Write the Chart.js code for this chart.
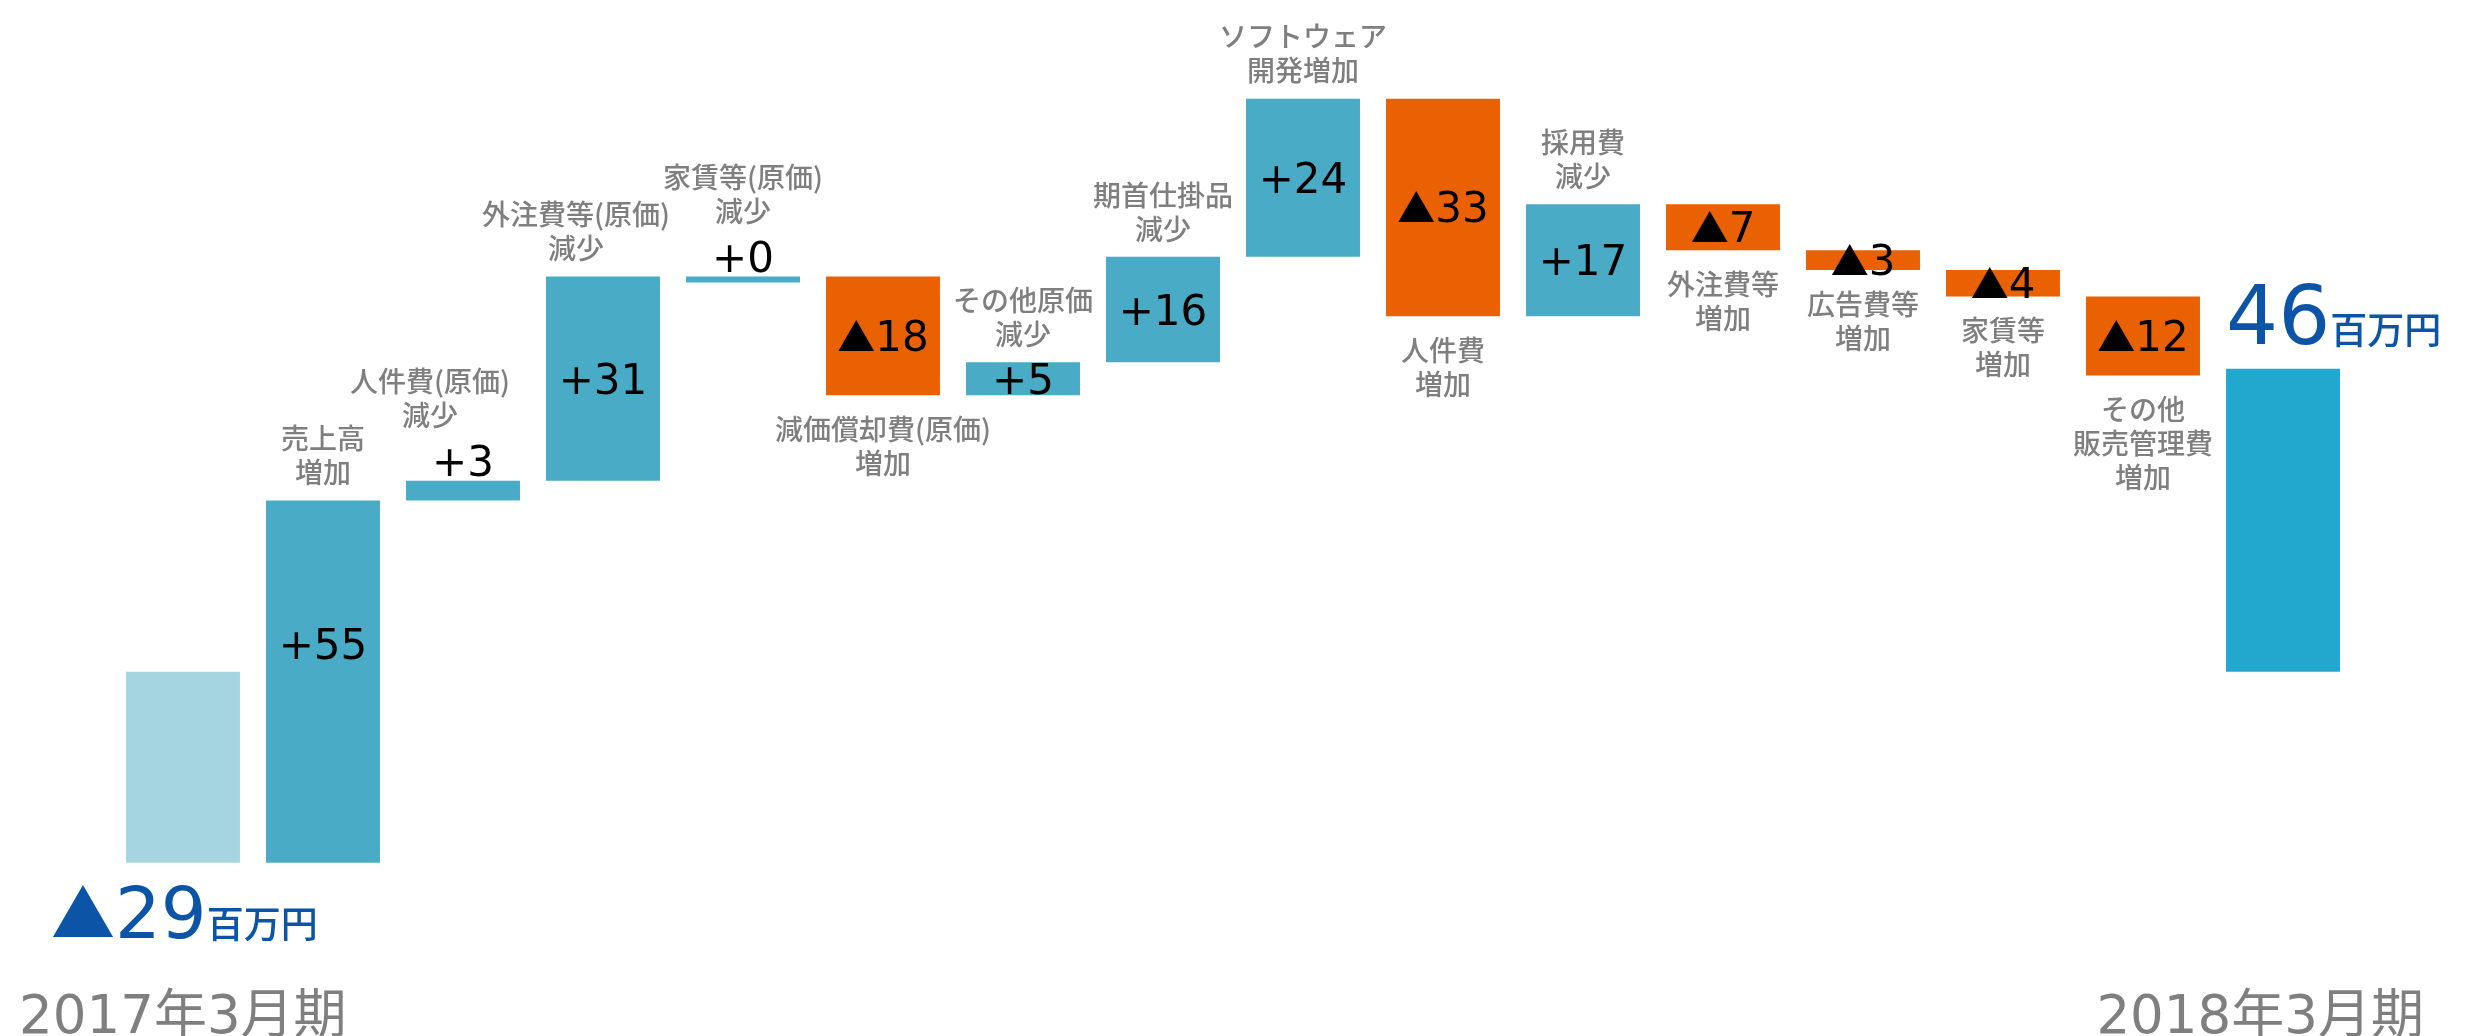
<!DOCTYPE html>
<html lang="ja">
<head>
<meta charset="utf-8">
<title>営業利益の増減要因</title>
<script src="https://cdn.jsdelivr.net/npm/chart.js@4.4.0/dist/chart.umd.min.js"></script>
<style>
    html, body { margin: 0; padding: 0; background: #ffffff; }
    #wrap { width: 2481px; height: 1036px; position: relative; }
</style>
</head>
<body>
<div id="wrap"><canvas id="bridgeChart"></canvas></div>
<script>
// Profit bridge, 2017年3月期 -> 2018年3月期 (百万円)
const startValue = -29;
const endValue = 46;
const changes = [55, 3, 31, 0, -18, 5, 16, 24, -33, 17, -7, -3, -4, -12];
const changeLabels = [
    ['売上高', '増加'],
    ['人件費(原価)', '減少'],
    ['外注費等(原価)', '減少'],
    ['家賃等(原価)', '減少'],
    ['減価償却費(原価)', '増加'],
    ['その他原価', '減少'],
    ['期首仕掛品', '減少'],
    ['ソフトウェア', '開発増加'],
    ['人件費', '増加'],
    ['採用費', '減少'],
    ['外注費等', '増加'],
    ['広告費等', '増加'],
    ['家賃等', '増加'],
    ['その他', '販売管理費', '増加']
];
const periodLabels = ['2017年3月期', '2018年3月期'];
const unitLabel = '百万円';

const COLORS = {
    start: '#a6d5e2',
    up: '#4aabc6',
    down: '#ea6103',
    end: '#22a7cf',
    total: '#0c54a5',
    category: '#7f7f7f',
    value: '#000000'
};

// a couple of labels sit off-centre so they clear the neighbouring bar
const labelShift = { 2: -33, 3: -27 };
const valueShift = { 1: -38 };

// floating [from, to] ranges for every bar
function buildRanges() {
    const ranges = [[startValue, 0]];
    let running = startValue;
    changes.forEach(c => {
        ranges.push([running, running + c]);
        running += c;
    });
    ranges.push([0, endValue]);
    return ranges;
}

const ranges = buildRanges();
const xLabels = [periodLabels[0], ...changeLabels.map(l => l.join('')), periodLabels[1]];
const barColors = [COLORS.start, ...changes.map(c => c < 0 ? COLORS.down : COLORS.up), COLORS.end];

// draws a row of differently styled text pieces on one baseline
function drawRuns(ctx, runs, x, baseline, align) {
    let total = 0;
    runs.forEach(r => {
        ctx.font = r.font;
        r.w = ctx.measureText(r.text).width;
        total += r.w;
    });
    let cx = align === 'center' ? x - total / 2 : (align === 'right' ? x - total : x);
    ctx.textAlign = 'left';
    ctx.textBaseline = 'alphabetic';
    runs.forEach(r => {
        ctx.font = r.font;
        ctx.fillStyle = r.color;
        ctx.fillText(r.text, cx, baseline);
        cx += r.w;
    });
}

function valueRuns(v) {
    const digits = { font: '42px "DejaVu Sans"', color: COLORS.value };
    if (v < 0) {
        return [
            { text: '▲', font: '38px "Noto Sans CJK JP"', color: COLORS.value },
            Object.assign({ text: String(-v) }, digits)
        ];
    }
    return [Object.assign({ text: '+' + v }, digits)];
}

const LINE_GAP = 34;

function drawLines(ctx, lines, x, firstCenter) {
    ctx.font = '500 28px "Noto Sans CJK JP"';
    ctx.fillStyle = COLORS.category;
    ctx.textAlign = 'center';
    ctx.textBaseline = 'middle';
    lines.forEach((line, k) => ctx.fillText(line, x, firstCenter + k * LINE_GAP));
}

const bridgeLabels = {
    id: 'bridgeLabels',
    afterDatasetsDraw(chart) {
        const ctx = chart.ctx;
        const bars = chart.getDatasetMeta(0).data;
        ctx.save();

        bars.forEach((bar, i) => {
            const top = Math.min(bar.y, bar.base);
            const bottom = Math.max(bar.y, bar.base);
            const left = bar.x - bar.width / 2;

            if (i === 0) {
                drawRuns(ctx, [
                    { text: '▲', font: '64px "Noto Sans CJK JP"', color: COLORS.total },
                    { text: String(-startValue), font: '72px "DejaVu Sans"', color: COLORS.total },
                    { text: unitLabel, font: '500 37px "Noto Sans CJK JP"', color: COLORS.total }
                ], left - 75, bottom + 75, 'left');
                return;
            }
            if (i === bars.length - 1) {
                drawRuns(ctx, [
                    { text: String(endValue), font: '82px "DejaVu Sans"', color: COLORS.total },
                    { text: unitLabel, font: '500 37px "Noto Sans CJK JP"', color: COLORS.total }
                ], left, top - 25, 'left');
                return;
            }

            const v = changes[i - 1];
            const lines = changeLabels[i - 1];
            const lx = bar.x + (labelShift[i] || 0);

            // value text: above thin increases, otherwise centred in the bar
            const above = v >= 0 && v < 4;
            const valueCenter = above ? top - 20 : (top + bottom) / 2 + (valueShift[i] || 0);
            drawRuns(ctx, valueRuns(v), bar.x, valueCenter + 15, 'center');

            // category text: over increases, under decreases
            if (v >= 0) {
                const lastCenter = above ? valueCenter - 45 : top - 28;
                drawLines(ctx, lines, lx, lastCenter - (lines.length - 1) * LINE_GAP);
            } else {
                drawLines(ctx, lines, lx, bottom + 34);
            }
        });

        // period captions along the bottom edge
        const periodFont = '53px "DejaVu Sans", "Noto Sans CJK JP"';
        drawRuns(ctx, [{ text: periodLabels[0], font: periodFont, color: COLORS.category }], 19, 1033, 'left');
        drawRuns(ctx, [{ text: periodLabels[1], font: periodFont, color: COLORS.category }], 2424, 1033, 'right');

        ctx.restore();
    }
};

const ctx = document.getElementById('bridgeChart').getContext('2d');
const chart = new Chart(ctx, {
    type: 'bar',
    data: {
        labels: xLabels,
        datasets: [{
            data: ranges,
            backgroundColor: barColors,
            borderWidth: 0,
            barPercentage: 0.814,
            categoryPercentage: 1.0,
            minBarLength: 6
        }]
    },
    options: {
        responsive: true,
        maintainAspectRatio: false,
        animation: false,
        devicePixelRatio: 1,
        layout: { padding: { left: 113, right: 128, top: 0, bottom: 0 } },
        plugins: {
            legend: { display: false },
            tooltip: { enabled: false }
        },
        scales: {
            x: { display: false },
            y: { display: false, min: -55.3, max: 102.0 }
        }
    },
    plugins: [bridgeLabels]
});
</script>
</body>
</html>
